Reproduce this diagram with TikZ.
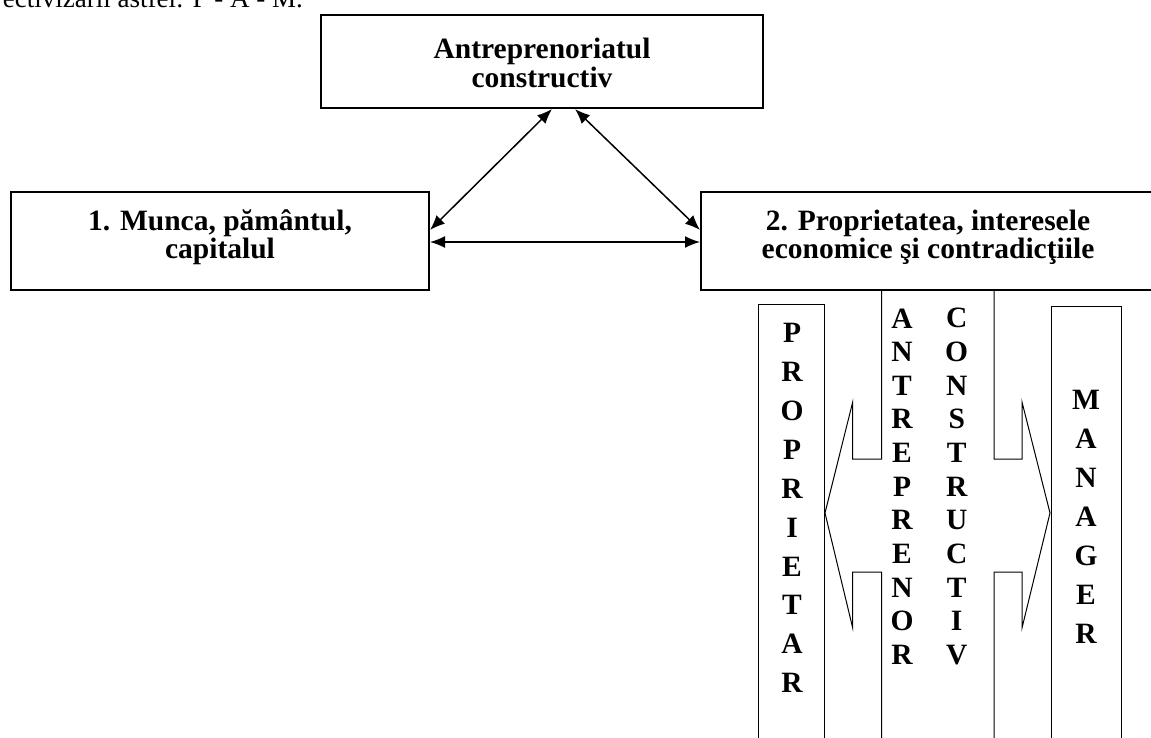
\documentclass[tikz,border=0pt]{standalone}
\usepackage{fontspec}
\setmainfont{Liberation Serif}
\usetikzlibrary{arrows.meta}
\begin{document}
\begin{tikzpicture}[x=1pt,y=-1pt,
  box/.style={draw, line width=1.5pt, inner sep=0pt},
  boxtext/.style={anchor=base, inner sep=0pt, font=\bfseries\fontsize{29.5}{26.5}\selectfont},
  letter/.style={font=\bfseries\fontsize{29.5}{30}\selectfont, inner sep=0pt},
  biarrow/.style={{Latex[length=15pt,width=12pt]}-{Latex[length=15pt,width=12pt]}, line width=1.5pt},
  thinline/.style={line width=1pt}]
\clip (0,0) rectangle (1151,738);
\useasboundingbox (0,0) rectangle (1151,738);

\node[anchor=base east, font=\fontsize{27}{30}\selectfont, inner sep=0pt] (intro) at (303,8) {ectivizării astfel: P - A - M.};

\node[box, minimum width=442, minimum height=93] (top) at (542,61.5) {};
\node[boxtext] (toptext) at (542,59) {\begin{tabular}[t]{@{}c@{}}Antreprenoriatul\\constructiv\end{tabular}};
\node[box, minimum width=418, minimum height=98] (left) at (220,241) {};
\node[boxtext] (lefttext) at (220,230.5) {\begin{tabular}[t]{@{}c@{}}1. Munca, pământul,\\capitalul\end{tabular}};
\node[box, minimum width=454, minimum height=98] (right) at (928,241) {};
\node[boxtext] (righttext) at (928,230.5) {\begin{tabular}[t]{@{}c@{}}2. Proprietatea, interesele\\economice şi contradicţiile\end{tabular}};

\coordinate (t1) at (552,109);
\coordinate (t2) at (575,109);
\coordinate (l1) at (430,230);
\coordinate (l2) at (430,242);
\coordinate (r1) at (700,230);
\coordinate (r2) at (700,242);
\draw[biarrow] (t1) -- (l1);
\draw[biarrow] (t2) -- (r1);
\draw[biarrow] (l2) -- (r2);

% double block arrow
\draw[thinline] (881.7,290) -- (881.7,459) -- (852.7,459) -- (852.7,402) -- (825,513) -- (852.7,628) -- (852.7,572) -- (881.7,572) -- (881.7,745);
\draw[thinline] (994,290) -- (994,459) -- (1022,459) -- (1022,402) -- (1050,513) -- (1022,628) -- (1022,572) -- (994,572) -- (994,745);

% side columns
\draw[thinline] (758,745) -- (758,304) -- (824,304) -- (824,745);
\draw[thinline] (1051,745) -- (1051,306) -- (1121,306) -- (1121,745);

\foreach \l [count=\i] in {P,R,O,P,R,I,E,T,A,R}
  \node[letter] (prop\i) at (792,{333+(\i-1)*38.9}) {\l};
\foreach \l [count=\i] in {A,N,T,R,E,P,R,E,N,O,R}
  \node[letter] (antr\i) at (902,{318.3+(\i-1)*33.67}) {\l};
\foreach \l [count=\i] in {C,O,N,S,T,R,U,C,T,I,V}
  \node[letter] (cons\i) at (956.7,{318.3+(\i-1)*33.67}) {\l};
\foreach \l [count=\i] in {M,A,N,A,G,E,R}
  \node[letter] (man\i) at (1086,{400+(\i-1)*39}) {\l};
\end{tikzpicture}
\end{document}
